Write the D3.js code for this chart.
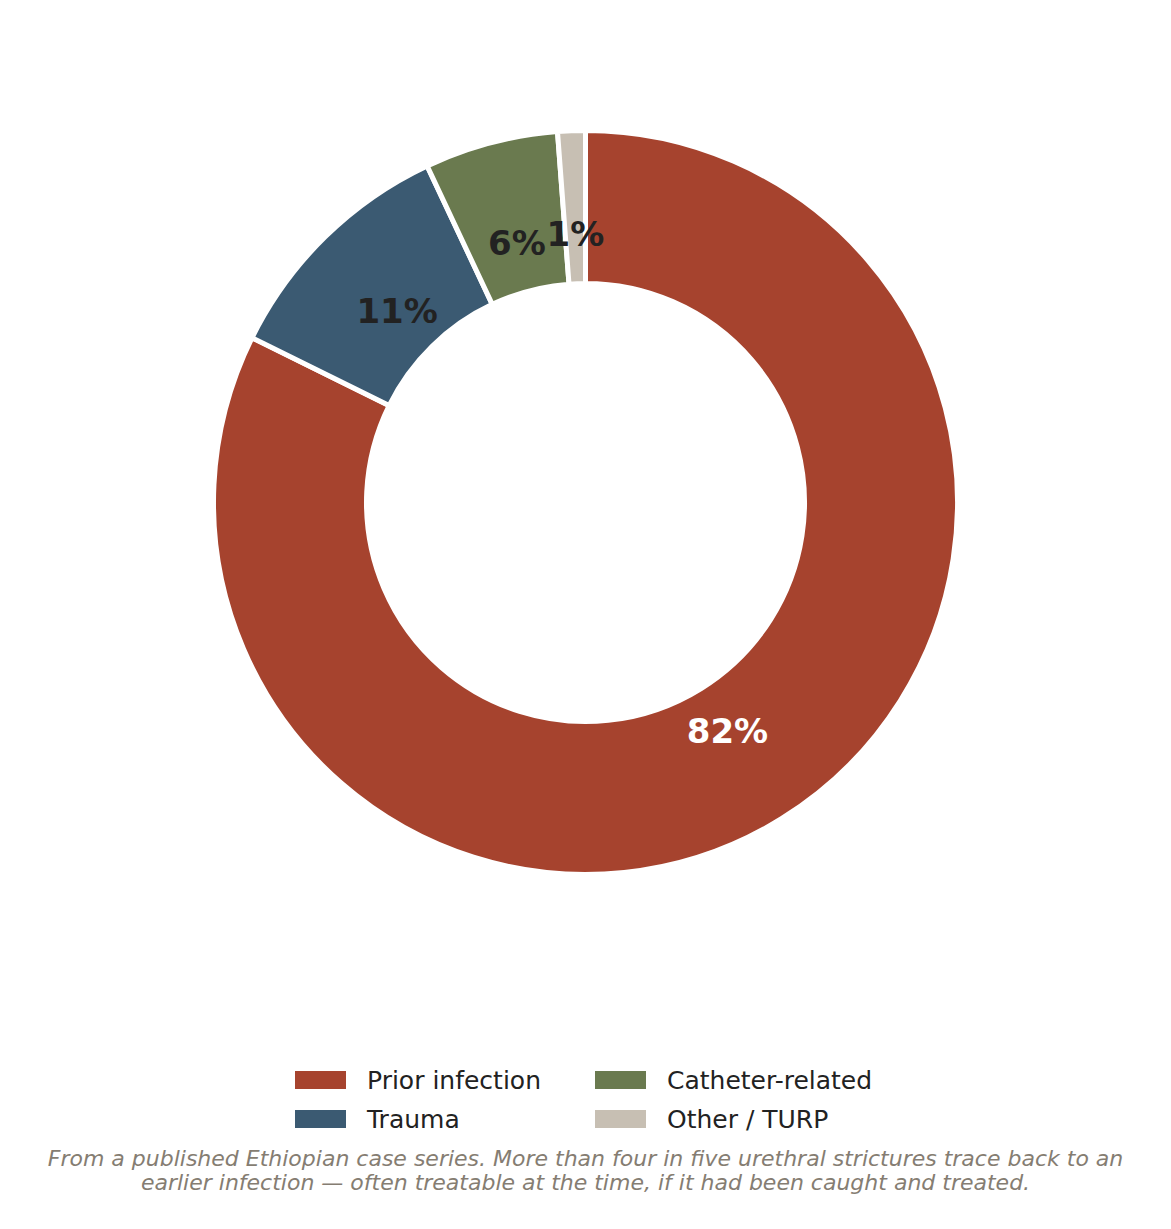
<!DOCTYPE html>
<html>
<head>
<meta charset="utf-8">
<script src="https://cdn.jsdelivr.net/npm/d3@7"></script>
<style>
  body { margin: 0; background: #fff; }
  text { font-family: "DejaVu Sans", sans-serif; }
</style>
</head>
<body>
<div id="chart"></div>
<script>
// data
const categories = ["Prior infection", "Trauma", "Catheter-related", "Other / TURP"];
const shares = [82.3, 10.7, 5.8, 1.2];
const labels = ["82%", "11%", "6%", "1%"];
const colours = ["#a6432e", "#3b5a72", "#6a7a4f", "#c7bfb3"];
const caption = [
  "From a published Ethiopian case series. More than four in five urethral strictures trace back to an",
  "earlier infection \u2014 often treatable at the time, if it had been caught and treated."
];

const width = 1171, height = 1229;
const cx = 585.5, cy = 502.5;
const outerR = 372, innerR = 219, labelR = 269;

const svg = d3.select("#chart").append("svg")
  .attr("width", width)
  .attr("height", height);

const data = categories.map((c, i) => ({name: c, value: shares[i], label: labels[i], colour: colours[i]}));

// clockwise from 12 o'clock, big slice first
const pie = d3.pie().sort(null).value(d => d.value)
  .startAngle(0).endAngle(2 * Math.PI);
const arcs = pie(data);
const arc = d3.arc().innerRadius(innerR).outerRadius(outerR);
const labelArc = d3.arc().innerRadius(labelR).outerRadius(labelR);

const g = svg.append("g").attr("transform", "translate(" + cx + "," + cy + ")");

g.selectAll("path")
  .data(arcs)
  .enter().append("path")
    .attr("d", arc)
    .attr("fill", d => d.data.colour)
    .attr("stroke", "#fff")
    .attr("stroke-width", 5)
    .attr("stroke-linejoin", "miter");

g.selectAll("text.pct")
  .data(arcs)
  .enter().append("text")
    .attr("class", "pct")
    .attr("transform", d => "translate(" + labelArc.centroid(d) + ")")
    .attr("text-anchor", "middle")
    .attr("dy", "0.36em")
    .attr("font-size", 34)
    .attr("font-weight", "bold")
    .attr("fill", (d, i) => i === 0 ? "#ffffff" : "#222222")
    .text(d => d.data.label);

// legend, two columns, filled column by column
const legend = svg.append("g");
const colX = [295, 595], rowY = [1080, 1119];
data.forEach((d, i) => {
  const col = Math.floor(i / 2), row = i % 2;
  const item = legend.append("g")
    .attr("transform", "translate(" + colX[col] + "," + rowY[row] + ")");
  item.append("rect")
    .attr("x", 0).attr("y", -9)
    .attr("width", 51).attr("height", 18)
    .attr("fill", d.colour);
  item.append("text")
    .attr("x", 72).attr("dy", "0.36em")
    .attr("font-size", 25)
    .attr("fill", "#222222")
    .text(d.name);
});

svg.append("g").selectAll("text")
  .data(caption)
  .enter().append("text")
    .attr("x", width / 2)
    .attr("y", (d, i) => 1166 + i * 24)
    .attr("text-anchor", "middle")
    .attr("font-size", 22)
    .attr("font-style", "italic")
    .attr("fill", "#857d72")
    .text(d => d);
</script>
</body>
</html>
